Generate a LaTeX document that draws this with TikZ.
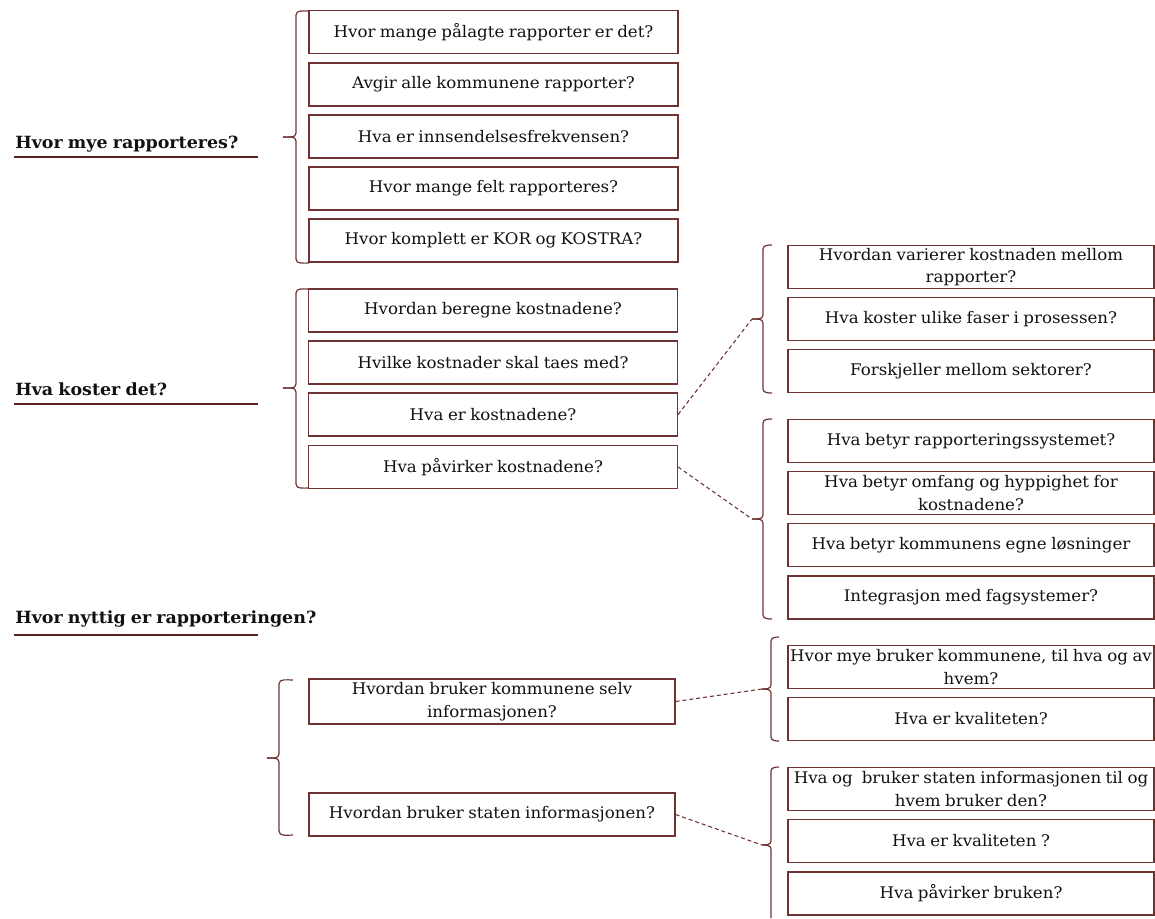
\documentclass[tikz,border=0pt]{standalone}
\usepackage{fontspec}
\setmainfont{DejaVu Serif}[FakeStretch=1.04, WordSpace=0.85]
\definecolor{frame}{HTML}{6E3232}
\definecolor{rule}{HTML}{5C1E1E}
\definecolor{ink}{HTML}{111111}

% left curly brace: vertical at x=#2, from #3 to #4, tip at (#6,#5), hooks reach to x=#7
\newcommand\qbrace[7]{%
  \coordinate (#1) at (#6,#5);
  \draw[brace] (#7,#3) to[out=180,in=90] (#2,#3+4) -- (#2,#5-4)
        to[out=-90,in=0] (#1);
  \draw[brace] (#1) to[out=0,in=90] (#2,#5+4) -- (#2,#4-4)
        to[out=-90,in=180] (#7,#4);
}

\begin{document}
\begin{tikzpicture}[x=0.75pt,y=-0.75pt,
  font=\fontsize{12}{17}\selectfont,
  qbox/.style={draw=frame, line width=0.9pt, inner sep=0pt, align=center,
    text=ink, minimum height=32.25pt},
  colA/.style={qbox, minimum width=276.75pt},
  colB/.style={qbox, minimum width=274.5pt},
  head/.style={anchor=base west, inner sep=0pt, font=\fontsize{12.6}{15}\selectfont\bfseries, text=ink},
  uline/.style={draw=rule, line width=1.5pt},
  brace/.style={draw=frame, line width=0.9pt},
  link/.style={draw=frame, line width=0.8pt, dash pattern=on 3pt off 2.2pt}]
\useasboundingbox (0,0) rectangle (1155,918);

% ---------- Hvor mye rapporteres? ----------
\node[head] (h1) at (15,148) {Hvor mye rapporteres?};
\draw[uline] (14,157) -- (258,157);
\node[colA] (a1) at (493.5,32) {Hvor mange pålagte rapporter er det?};
\node[colA] (a2) at (493.5,84.5) {Avgir alle kommunene rapporter?};
\node[colA] (a3) at (493.5,136.5) {Hva er innsendelsesfrekvensen?};
\node[colA] (a4) at (493.5,188.5) {Hvor mange felt rapporteres?};
\node[colA] (a5) at (493.5,240.5) {Hvor komplett er KOR og KOSTRA?};
\qbrace{ba}{296}{11}{263}{137}{283}{309}

% ---------- Hva koster det? ----------
\node[head] (h2) at (15,395) {Hva koster det?};
\draw[uline] (14,404) -- (258,404);
\node[colA] (k1) at (493,310.5) {Hvordan beregne kostnadene?};
\node[colA] (k2) at (493,362.5) {Hvilke kostnader skal taes med?};
\node[colA] (k3) at (493,414.5) {Hva er kostnadene?};
\node[colA] (k4) at (493,467) {Hva påvirker kostnadene?};
\qbrace{bk}{296}{289}{488}{388}{283}{309}

\node[colB] (v1) at (971,267) {Hvordan varierer kostnaden mellom\\rapporter?};
\node[colB] (v2) at (971,319) {Hva koster ulike faser i prosessen?};
\node[colB] (v3) at (971,371) {Forskjeller mellom sektorer?};
\qbrace{bv}{763}{245}{393}{319}{752}{772}

\node[colB] (p1) at (971,441) {Hva betyr rapporteringssystemet?};
\node[colB] (p2) at (971,493) {Hva betyr omfang og hyppighet for\\kostnadene?};
\node[colB] (p3) at (971,545) {Hva betyr kommunens egne løsninger};
\node[colB] (p4) at (971,597.5) {Integrasjon med fagsystemer?};
\qbrace{bp}{763}{419}{619}{519}{752}{772}

\draw[link] (k3.east) -- (bv);
\draw[link] (k4.east) -- (bp);

% ---------- Hvor nyttig er rapporteringen? ----------
\node[head] (h3) at (15,623) {Hvor nyttig er rapporteringen?};
\draw[uline] (14,635) -- (258,635);
\node[colB, minimum height=33.75pt] (n1) at (492,701.5) {Hvordan bruker kommunene selv\\informasjonen?};
\node[colB] (n2) at (492,814.5) {Hvordan bruker staten informasjonen?};
\qbrace{bn}{279}{680}{835}{758}{267}{293}

\node[colB] (c1) at (971,667) {Hvor mye bruker kommunene, til hva og av\\hvem?};
\node[colB] (c2) at (971,719) {Hva er kvaliteten?};
\qbrace{bc}{771}{637}{741}{689}{762}{779}

\node[colB] (s1) at (971,789) {Hva og\ \ bruker staten informasjonen til og\\hvem bruker den?};
\node[colB] (s2) at (971,841) {Hva er kvaliteten ?};
\node[colB] (s3) at (971,893.5) {Hva påvirker bruken?};
% this brace runs past the lower edge, so it has no bottom hook
\coordinate (bs) at (762,845);
\draw[brace] (779,767) to[out=180,in=90] (771,771) -- (771,841)
      to[out=-90,in=0] (bs);
\draw[brace] (bs) to[out=0,in=90] (771,849) -- (771,918);

\draw[link] (n1.east) -- (bc);
\draw[link] (n2.east) -- (bs);
\end{tikzpicture}
\end{document}
